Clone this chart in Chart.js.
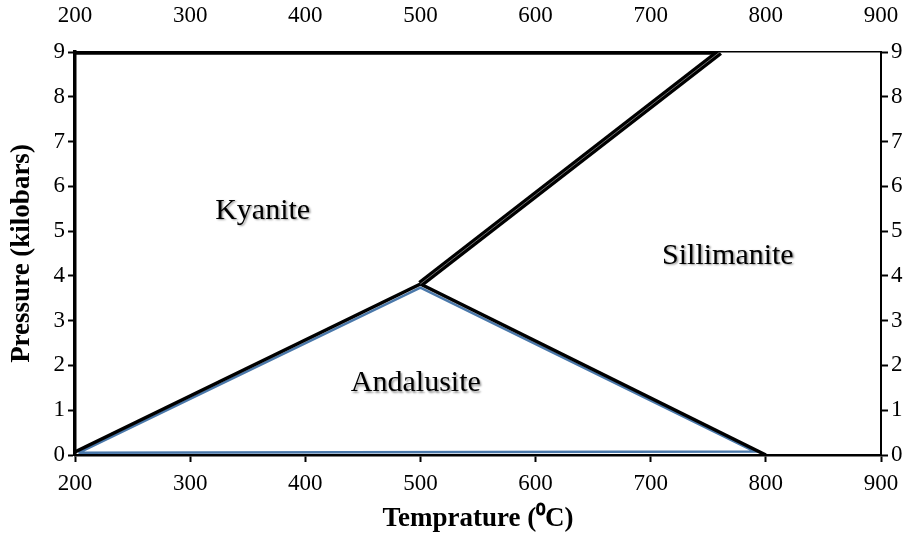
<!DOCTYPE html>
<html>
<head>
<meta charset="utf-8">
<script src="https://cdn.jsdelivr.net/npm/chart.js@4"></script>
<style>
  html, body { margin: 0; padding: 0; background: #fff; }
  #wrap { width: 916px; height: 535px; }
</style>
</head>
<body>
<div id="wrap"><canvas id="myChart-phase"></canvas></div>
<script>
// axis ticks
var tempTicks = [200, 300, 400, 500, 600, 700, 800, 900];
var presTicks = [0, 1, 2, 3, 4, 5, 6, 7, 8, 9];

// phase boundaries (temperature C, pressure kbar)
var kyAndT = [200, 500];
var kyAndP = [0.07, 3.82];
var andSilT = [500, 800];
var andSilP = [3.82, 0];
var kySilT = [500, 760];
var kySilP = [3.82, 9];
var topT = [200, 760];
var topP = [8.97, 8.97];
// blue outline of andalusite field
var andFieldT = [203, 500, 790, 203];
var andFieldP = [0.05, 3.74, 0.08, 0.05];

// field names
var fieldNames = ["Kyanite", "Sillimanite", "Andalusite"];
var fieldT = [363, 767, 496];
var fieldP = [5.45, 4.45, 1.6];

function pts(xs, ys) {
    var out = [];
    for (var i = 0; i < xs.length; i++) out.push({ x: xs[i], y: ys[i] });
    return out;
}

var serif = "'Liberation Serif', 'Times New Roman', serif";

var fieldLabels = {
    id: 'fieldLabels',
    afterDatasetsDraw: function (chart) {
        var ctx = chart.ctx,
            xs = chart.scales.x,
            ys = chart.scales.y;
        ctx.save();
        ctx.font = '30px ' + serif;
        ctx.fillStyle = 'black';
        ctx.textAlign = 'center';
        ctx.textBaseline = 'middle';
        ctx.shadowColor = 'rgba(0,0,0,0.4)';
        ctx.shadowOffsetX = 1.5;
        ctx.shadowOffsetY = 1.5;
        ctx.shadowBlur = 2;
        for (var i = 0; i < fieldNames.length; i++) {
            ctx.fillText(fieldNames[i], xs.getPixelForValue(fieldT[i]), ys.getPixelForValue(fieldP[i]));
        }
        ctx.restore();
    }
};

var line = function (data, color, width, order) {
    return {
        data: data,
        borderColor: color,
        borderWidth: width,
        pointRadius: 0,
        fill: false,
        tension: 0,
        order: order
    };
};

var tickFont = { family: serif, size: 23 };
var titleFont = { family: serif, size: 27, weight: 'bold' };

new Chart(document.getElementById('myChart-phase'), {
    type: 'scatter',
    data: {
        datasets: [
            line(pts(andFieldT, andFieldP), '#4a78aa', 2.5, 6),
            line(pts(kyAndT, kyAndP), '#000', 3.5, 4),
            line(pts(andSilT, andSilP), '#000', 3.5, 4),
            line(pts(kySilT, kySilP), '#000', 7, 3),
            line(pts(kySilT, kySilP), '#bbb', 0.6, 2),
            line(pts(topT, topP), '#000', 3, 4)
        ].map(function (d) { d.showLine = true; return d; })
    },
    plugins: [fieldLabels],
    options: {
        responsive: true,
        maintainAspectRatio: false,
        animation: false,
        events: [],
        layout: { padding: 0 },
        plugins: {
            legend: { display: false },
            tooltip: { enabled: false }
        },
        scales: {
            x: {
                type: 'linear',
                position: 'bottom',
                min: 200, max: 900,
                afterBuildTicks: function (s) { s.ticks = tempTicks.map(function (v) { return { value: v }; }); },
                afterFit: function (s) { s.height = 80; },
                grid: { drawOnChartArea: false, tickLength: 7, tickWidth: 2, color: '#000' },
                border: { color: '#000', width: 2.5 },
                ticks: { color: '#000', font: tickFont, padding: 8, maxRotation: 0 },
                title: { display: true, text: 'Temprature (⁰C)', color: '#000', font: titleFont, padding: { top: 4, bottom: 0 } }
            },
            x2: {
                type: 'linear',
                position: 'top',
                min: 200, max: 900,
                afterBuildTicks: function (s) { s.ticks = tempTicks.map(function (v) { return { value: v }; }); },
                afterFit: function (s) { s.height = 52; },
                grid: { drawOnChartArea: false, tickLength: 21, color: 'rgba(0,0,0,0)' },
                border: { color: '#000', width: 1.5 },
                ticks: { color: '#000', font: tickFont, padding: 1, maxRotation: 0 }
            },
            y: {
                type: 'linear',
                position: 'left',
                min: 0, max: 9,
                afterBuildTicks: function (s) { s.ticks = presTicks.map(function (v) { return { value: v }; }); },
                afterFit: function (s) { s.width = 75; },
                grid: { drawOnChartArea: false, tickLength: 7, tickWidth: 2, color: '#000' },
                border: { color: '#000', width: 3.5 },
                ticks: { color: '#000', font: tickFont, padding: 3 },
                title: { display: true, text: 'Pressure (kilobars)', color: '#000', font: titleFont, padding: { top: 6, bottom: 0 } }
            },
            y2: {
                type: 'linear',
                position: 'right',
                min: 0, max: 9,
                afterBuildTicks: function (s) { s.ticks = presTicks.map(function (v) { return { value: v }; }); },
                afterFit: function (s) { s.width = 35; },
                grid: { drawOnChartArea: false, tickLength: 7, tickWidth: 2, color: '#000' },
                border: { color: '#000', width: 2 },
                ticks: { color: '#000', font: tickFont, padding: 3 }
            }
        }
    }
});
</script>
</body>
</html>
